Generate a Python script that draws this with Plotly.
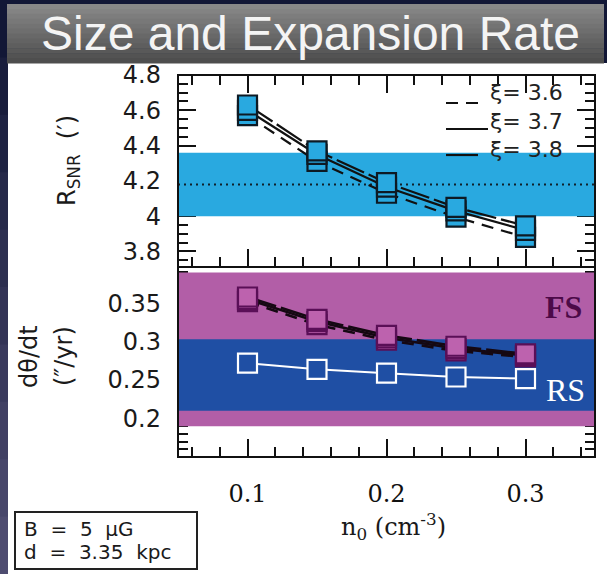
import plotly.graph_objects as go

# ---------------- data ----------------
n0 = [0.10, 0.15, 0.20, 0.25, 0.30]
R_xi36 = [4.57, 4.31, 4.13, 3.995, 3.88]
R_xi37 = [4.60, 4.35, 4.165, 4.03, 3.92]
R_xi38 = [4.63, 4.37, 4.19, 4.05, 3.945]
R_obs = 4.18
R_obs_band = [4.0, 4.36]

FS_xi36 = [0.352, 0.322, 0.302, 0.288, 0.280]
FS_xi37 = [0.355, 0.326, 0.305, 0.291, 0.282]
FS_xi38 = [0.358, 0.329, 0.308, 0.294, 0.284]
RS_vals = [0.272, 0.264, 0.259, 0.254, 0.252]
FS_band = [0.19, 0.39]
RS_band = [0.21, 0.303]

x_range = [0.05, 0.35]
x_tickvals = [0.1, 0.2, 0.3]
R_range = [3.712, 4.8]
R_tickvals = [3.8, 4.0, 4.2, 4.4, 4.6, 4.8]
V_range = [0.15, 0.397]
V_tickvals = [0.2, 0.25, 0.3, 0.35]
xi_labels = ["3.6", "3.7", "3.8"]

# ---------------- layout geometry (pixels) ----------------
W, H = 607, 574
L, R, T, B = 178, 595, 75, 457
MID = 267
PW, PH = R - L, B - T


def px(x):
    return (x - L) / PW


def py(y):
    return (B - y) / PH


split = py(MID)

CYAN = "#29a9e0"
MAG = "#b25ea7"
BLUE = "#1f4fa4"
FSMARK = "#bd62ae"
FSEDGE = "#5a0f57"
NAVY = "#121736"

fig = go.Figure()

# ---- top panel ----
fig.add_trace(go.Scatter(x=[x_range[0], x_range[1], x_range[1], x_range[0]],
                         y=[R_obs_band[0], R_obs_band[0], R_obs_band[1], R_obs_band[1]],
                         fill="toself", fillcolor=CYAN, line=dict(width=0), mode="lines",
                         hoverinfo="skip", xaxis="x", yaxis="y"))
fig.add_trace(go.Scatter(x=x_range, y=[R_obs, R_obs], mode="lines",
                         line=dict(color="#10202a", width=2, dash="2px,4px"),
                         xaxis="x", yaxis="y"))
dashes = ["12px,8px", "solid", "30px,5px"]
for ys, d in zip([R_xi36, R_xi37, R_xi38], dashes):
    fig.add_trace(go.Scatter(x=n0, y=ys, mode="lines",
                             line=dict(color="#111111", width=2.2, dash=d),
                             xaxis="x", yaxis="y"))
for ys in [R_xi36, R_xi37, R_xi38]:
    fig.add_trace(go.Scatter(x=n0, y=ys, mode="markers",
                             marker=dict(symbol="square", size=19, color=CYAN,
                                         line=dict(color="#0d1a24", width=2.2)),
                             xaxis="x", yaxis="y"))

# ---- bottom panel ----
fig.add_trace(go.Scatter(x=[x_range[0], x_range[1], x_range[1], x_range[0]],
                         y=[FS_band[0], FS_band[0], FS_band[1], FS_band[1]],
                         fill="toself", fillcolor=MAG, line=dict(width=0), mode="lines",
                         hoverinfo="skip", xaxis="x2", yaxis="y2"))
fig.add_trace(go.Scatter(x=[x_range[0], x_range[1], x_range[1], x_range[0]],
                         y=[RS_band[0], RS_band[0], RS_band[1], RS_band[1]],
                         fill="toself", fillcolor=BLUE, line=dict(width=0), mode="lines",
                         hoverinfo="skip", xaxis="x2", yaxis="y2"))
for ys, d in zip([FS_xi36, FS_xi37, FS_xi38], dashes):
    fig.add_trace(go.Scatter(x=n0, y=ys, mode="lines",
                             line=dict(color="#150812", width=2.6, dash=d),
                             xaxis="x2", yaxis="y2"))
fig.add_trace(go.Scatter(x=n0, y=RS_vals, mode="lines+markers",
                         line=dict(color="white", width=2),
                         marker=dict(symbol="square", size=19, color=BLUE,
                                     line=dict(color="white", width=2.2)),
                         xaxis="x2", yaxis="y2"))
for ys in [FS_xi36, FS_xi37, FS_xi38]:
    fig.add_trace(go.Scatter(x=n0, y=ys, mode="markers",
                             marker=dict(symbol="square", size=19, color=FSMARK,
                                         line=dict(color=FSEDGE, width=2.2)),
                             xaxis="x2", yaxis="y2"))

# ---------------- axes ----------------
xcommon = dict(range=x_range, tickmode="array", tickvals=x_tickvals,
               ticks="inside", ticklen=18, tickwidth=2, tickcolor="#111",
               minor=dict(dtick=0.02, tick0=0, ticks="inside", ticklen=10,
                          tickwidth=1.6, tickcolor="#111"),
               showgrid=False, zeroline=False, showline=False,
               layer="below traces")
yfont = dict(family="DejaVu Sans", size=24, color="#1a1a1a")
fig.update_layout(
    xaxis=dict(**xcommon, anchor="y", mirror="ticks", showticklabels=False,
               matches="x2"),
    xaxis2=dict(**xcommon, anchor="y2", mirror=False, showticklabels=True,
                tickfont=dict(family="DejaVu Serif", size=24, color="#111"),
                ticklabelstandoff=20),
    yaxis=dict(domain=[split, 1], range=R_range, tickmode="array",
               tickvals=R_tickvals, ticks="inside", ticklen=18, tickwidth=2,
               tickcolor="#111", mirror="ticks",
               minor=dict(dtick=0.05, tick0=3.8, ticks="inside", ticklen=10,
                          tickwidth=1.6, tickcolor="#111"),
               showgrid=False, zeroline=False, showline=False,
               layer="below traces", tickfont=yfont, ticklabelstandoff=16),
    yaxis2=dict(domain=[0, split], range=V_range, tickmode="array",
                tickvals=V_tickvals, ticks="inside", ticklen=18, tickwidth=2,
                tickcolor="#111", mirror="ticks",
                minor=dict(dtick=0.01, tick0=0, ticks="inside", ticklen=10,
                           tickwidth=1.6, tickcolor="#111"),
                showgrid=False, zeroline=False, showline=False,
                layer="below traces", tickfont=yfont, ticklabelstandoff=16),
)

# ---------------- decoration shapes ----------------
shapes = []
# left edge of the slide background: navy fading to a greyish purple
n = 10
for i in range(n):
    t = i / (n - 1)
    r = int(round(18 + (78 - 18) * t))
    g = int(round(23 + (76 - 23) * t))
    b = int(round(54 + (112 - 54) * t))
    shapes.append(dict(type="rect", xref="paper", yref="paper",
                       x0=px(-5), x1=px(8), y0=py(H * i / n),
                       y1=py(H * (i + 1) / n + 1),
                       fillcolor=f"rgb({r},{g},{b})", line=dict(width=0),
                       layer="below"))
# white slide body
shapes.append(dict(type="rect", xref="paper", yref="paper",
                   x0=px(8), x1=px(W + 5), y0=py(63), y1=py(H + 5),
                   fillcolor="white", line=dict(width=0), layer="below"))
# title bar gradient
n = 12
top, bot = 4, 63
for i in range(n):
    y0 = top + (bot - top) * i / n
    y1 = top + (bot - top) * (i + 1) / n
    t = i / (n - 1)
    c = int(round(136 - 58 * t))
    shapes.append(dict(type="rect", xref="paper", yref="paper",
                       x0=px(7), x1=px(604), y0=py(y0), y1=py(y1 + 0.6),
                       fillcolor=f"rgb({c},{c},{c})", line=dict(width=0),
                       layer="below"))
# frames
for xr, yr in [("x domain", "y domain"), ("x2 domain", "y2 domain")]:
    shapes.append(dict(type="rect", xref=xr, yref=yr, x0=0, x1=1, y0=0, y1=1,
                       line=dict(color="#111", width=2), layer="above"))
# legend samples
for (x0, x1, yy, d) in [(446, 481, 103, "12px,8px"), (446, 488, 129, "solid"),
                        (446, 478, 155, "solid")]:
    shapes.append(dict(type="line", xref="paper", yref="paper",
                       x0=px(x0), x1=px(x1), y0=py(yy), y1=py(yy),
                       line=dict(color="#111", width=2.2, dash=d), layer="above"))
# parameter box
shapes.append(dict(type="rect", xref="paper", yref="paper",
                   x0=px(15), x1=px(197), y0=py(512), y1=py(569),
                   line=dict(color="#222", width=2), fillcolor="rgba(0,0,0,0)"))
fig.update_layout(shapes=shapes)

# ---------------- text ----------------
ann = []


def add_text(text, x, y, font, xanchor="center", textangle=0, align="center"):
    ann.append(dict(text=text, xref="paper", yref="paper", x=px(x), y=py(y),
                    xanchor=xanchor, yanchor="middle", showarrow=False,
                    align=align, textangle=textangle, font=font))


add_text("Size and Expansion Rate", 310, 33.5,
         dict(family="Liberation Sans", size=48, color="#f4f4f4"))
add_text("<br>".join("ξ= " + lab for lab in xi_labels), 488, 121,
         dict(family="DejaVu Sans", size=22, color="#222"), xanchor="left",
         align="left")
add_text("<b>FS</b>", 563, 307,
         dict(family="Liberation Serif", size=32, color="#4c0a48"))
add_text("RS", 565, 390, dict(family="Liberation Serif", size=32, color="white"))
add_text("R<sub>SNR</sub>  (′)", 68, 160,
         dict(family="DejaVu Sans", size=24, color="#1a1a1a"), textangle=-90)
add_text("dθ/dt", 29, 357,
         dict(family="DejaVu Sans", size=24, color="#1a1a1a"), textangle=-90)
add_text("(″/yr)", 64, 356,
         dict(family="DejaVu Sans", size=24, color="#1a1a1a"), textangle=-90)
add_text("n<sub>0</sub> (cm<sup>-3</sup>)", 393, 526,
         dict(family="DejaVu Serif", size=24, color="#1a1a1a"))
add_text("B  =  5  μG", 22, 529,
         dict(family="DejaVu Sans", size=20, color="#1a1a1a"), xanchor="left")
add_text("d  =  3.35  kpc", 22, 552,
         dict(family="DejaVu Sans", size=20, color="#1a1a1a"), xanchor="left")
fig.update_layout(annotations=ann)

fig.update_layout(width=W, height=H, margin=dict(l=L, r=W - R, t=T, b=H - B),
                  paper_bgcolor=NAVY, plot_bgcolor="rgba(0,0,0,0)",
                  showlegend=False)

fig.write_html("out.html", config={"displayModeBar": False},
               post_script="document.body.style.margin='0';"
                           "document.body.style.overflow='hidden';")
